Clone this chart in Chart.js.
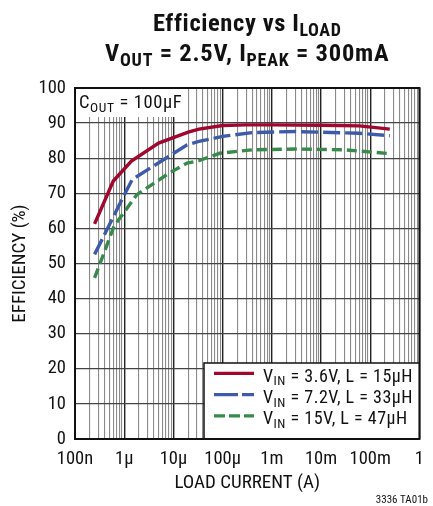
<!DOCTYPE html>
<html>
<head>
<meta charset="utf-8">
<script src="https://cdn.jsdelivr.net/npm/chart.js@4"></script>
<style>
html,body{margin:0;padding:0;background:#fff;}
#wrap{width:433px;height:506px;position:relative;}
</style>
</head>
<body>
<div id="wrap"><canvas id="c" width="433" height="506"></canvas></div>
<script>
// ---- data ----
const xTickLabels = ['100n', '1\u00b5', '10\u00b5', '100\u00b5', '1m', '10m', '100m', '1'];
const yTickLabels = ['0','10','20','30','40','50','60','70','80','90','100'];

const loadCurrent36 = [2.5e-7, 6e-7, 1.4e-6, 5e-6, 2e-5, 3.3e-5, 1e-4, 3e-4, 1e-3, 1e-2, 6e-2, 0.25];
const eff36         = [61.3,   73.5, 79.2,   84.3, 87.4, 88.3,   89.3, 89.5, 89.5, 89.4, 89.2, 88.3];

const loadCurrent72 = [2.5e-7, 8e-7, 1.45e-6, 8e-6, 1.9e-5, 3.3e-5, 1e-4, 4e-4, 3e-3, 6e-2, 0.25];
const eff72         = [52.6,   66.8, 73.9,    80.5, 83.8,   84.8,   86.2, 87.3, 87.6, 87.1, 86.4];

const loadCurrent15 = [2.5e-7, 6.2e-7, 1.8e-6, 8.3e-6, 1.9e-5, 3.3e-5, 8.7e-5, 4e-4, 3e-3, 2.9e-2, 0.25];
const eff15         = [45.9,   60.6,   69.6,   75.8,   78.6,   79.3,   81.4,   82.4, 82.6, 82.4,   81.3];

const seriesLabels = ['V|IN| = 3.6V, L = 15\u00b5H', 'V|IN| = 7.2V, L = 33\u00b5H', 'V|IN| = 15V, L = 47\u00b5H'];

const FONT = '"Roboto Condensed", "Liberation Sans Narrow", Roboto, sans-serif';

function pts(xs, ys){ return xs.map((x,i)=>({x:x, y:ys[i]})); }

// gridline positions for log axis (1..9 per decade)
function logGrid(minExp, maxExp){
  const out=[];
  for(let e=minExp;e<maxExp;e++){
    for(let m=1;m<=9;m++) out.push(parseFloat((m*Math.pow(10,e)).toPrecision(6)));
  }
  out.push(Math.pow(10,maxExp));
  return out;
}
function isDecade(v){ const l=Math.log10(v); return Math.abs(l-Math.round(l))<1e-9; }

// draw text with |sub| segments
function drawRich(ctx, str, x, y, size, subSize, subOff, weight, align, ls){
  const parts = str.split('|');
  const segs = parts.map((p,i)=>({t:p, sub: i%2===1}));
  const fontOf = s => (weight?weight+' ':'') + (s.sub?subSize:size) + 'px ' + FONT;
  ctx.save();
  try { ctx.letterSpacing = (ls||0) + 'px'; } catch(e) {}
  let w=0;
  segs.forEach(s=>{ ctx.font=fontOf(s); s.w=ctx.measureText(s.t).width; w+=s.w; });
  let cx = align==='center' ? x - w/2 : x;
  ctx.textAlign='left'; ctx.textBaseline='alphabetic';
  segs.forEach(s=>{ ctx.font=fontOf(s); ctx.fillText(s.t, cx, y + (s.sub?subOff:0)); cx+=s.w; });
  ctx.restore();
  return w;
}

const decorPlugin = {
  id:'decor',
  beforeDatasetsDraw(chart){
    const ctx=chart.ctx, a=chart.chartArea;
    ctx.save();
    ctx.fillStyle='#fff';
    ctx.fillRect(a.left+1, a.top+1, 108, 28);
    ctx.fillRect(204, 363, a.right-204, a.bottom-363);
    ctx.restore();
  },
  afterDatasetsDraw(chart){
    const ctx=chart.ctx, a=chart.chartArea;
    ctx.save();
    ctx.strokeStyle='#111'; ctx.lineWidth=2;
    ctx.strokeRect(a.left, a.top, a.right-a.left, a.bottom-a.top);
    ctx.lineWidth=1.5;
    ctx.beginPath(); ctx.moveTo(204, a.bottom); ctx.lineTo(204, 363); ctx.lineTo(a.right, 363); ctx.stroke();
    ctx.fillStyle='#111';
    chart.data.datasets.forEach((ds,i)=>{
      const y = 373.3 + i*21.3;
      ctx.save();
      ctx.strokeStyle=ds.borderColor; ctx.lineWidth=3.2;
      ctx.setLineDash(ds.legendDash||[]);
      ctx.beginPath(); ctx.moveTo(214,y); ctx.lineTo(254,y); ctx.stroke();
      ctx.restore();
      drawRich(ctx, ds.label, 263, y+8.4, 18, 13, 3.5, '', 'left', 0.5);
    });
    drawRich(ctx, 'C|OUT| = 100\u00b5F', 79, 108, 18.5, 13.5, 4.3, '', 'left', 0.6);
    ctx.restore();
  },
  afterDraw(chart){
    const ctx=chart.ctx, a=chart.chartArea;
    ctx.save();
    ctx.fillStyle='#111';
    const cx=(a.left+a.right)/2;
    drawRich(ctx, 'Efficiency vs I|LOAD|', cx, 31, 24.5, 18, 5.3, 'bold', 'center', 0.6);
    drawRich(ctx, 'V|OUT| = 2.5V, I|PEAK| = 300mA', cx, 60.5, 24.5, 18, 5.3, 'bold', 'center', 0.8);
    ctx.font='11px '+FONT; ctx.textAlign='right'; ctx.textBaseline='alphabetic';
    ctx.fillText('3336 TA01b', 428, 503);
    ctx.restore();
  }
};

const ctx = document.getElementById('c').getContext('2d');
new Chart(ctx, {
  type:'line',
  data:{
    datasets:[
      {label:seriesLabels[0], data:pts(loadCurrent36, eff36), borderColor:'#a1062e', borderWidth:3.4, pointRadius:0, tension:0, fill:false, legendDash:[]},
      {label:seriesLabels[1], data:pts(loadCurrent72, eff72), borderColor:'#3e5ba9', borderWidth:3.4, borderDash:[17,5], pointRadius:0, tension:0, fill:false, legendDash:[24,4]},
      {label:seriesLabels[2], data:pts(loadCurrent15, eff15), borderColor:'#378a4b', borderWidth:3.4, borderDash:[10,5], pointRadius:0, tension:0, fill:false, legendDash:[11,4]}
    ]
  },
  options:{
    responsive:false, animation:false, devicePixelRatio:1,
    layout:{padding:{left:0, top:88, right:6, bottom:0}},
    plugins:{legend:{display:false}, title:{display:false}, tooltip:{enabled:false}},
    scales:{
      x:{
        type:'logarithmic', min:1e-7, max:1,
        afterBuildTicks(scale){ scale.ticks = logGrid(-7,0).map(v=>({value:v, major:isDecade(v)})); },
        afterFit(scale){ scale.height = 67; },
        ticks:{
          autoSkip:false, maxRotation:0, minRotation:0, padding:9,
          color:'#111', font:{family:FONT, size:18.5},
          callback(v){ if(!isDecade(v)) return ''; const i=Math.round(Math.log10(v))+7; return xTickLabels[i]; }
        },
        grid:{
          drawTicks:false,
          color(c){ return (c.tick && isDecade(c.tick.value)) ? '#222' : '#8a8a8a'; },
          lineWidth(c){ return (c.tick && isDecade(c.tick.value)) ? 1.4 : 1.1; }
        },
        border:{display:false},
        title:{display:true, text:'LOAD CURRENT (A)', color:'#111', font:{family:FONT, size:19}, padding:{top:0,bottom:11}}
      },
      y:{
        type:'linear', min:0, max:100,
        afterBuildTicks(scale){ scale.ticks = yTickLabels.map(t=>({value:Number(t)})); },
        afterFit(scale){ scale.width = 75; },
        ticks:{ padding:9, color:'#111', font:{family:FONT, size:18.5}, callback(v){ return yTickLabels[Math.round(v/10)]; } },
        grid:{ drawTicks:false, color:'#444', lineWidth:1.3 },
        border:{display:false},
        title:{display:true, text:'EFFICIENCY (%)', color:'#111', font:{family:FONT, size:19}, padding:{top:9,bottom:0}}
      }
    }
  },
  plugins:[decorPlugin]
});
</script>
</body>
</html>
